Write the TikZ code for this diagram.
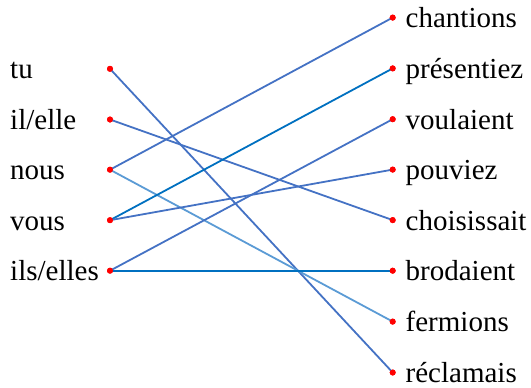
\documentclass[tikz,border=0pt]{standalone}
\usepackage{fontspec}
\setmainfont{Liberation Serif}
\newfontfamily\lblfont{Liberation Serif}
\definecolor{lnA}{HTML}{4472C4}
\definecolor{lnB}{HTML}{5B9BD5}
\definecolor{lnC}{HTML}{0070C0}
\definecolor{dotred}{HTML}{FF0000}
\begin{document}
\begin{tikzpicture}[x=1pt,y=-1pt,
  dotpt/.style={circle,fill=dotred,inner sep=0pt,minimum size=6pt},
  lbl/.style={anchor=base west,inner sep=0pt,font=\lblfont\fontsize{29}{32}\selectfont},
  conA/.style={draw=lnA,line width=1.8pt},
  conB/.style={draw=lnB,line width=1.8pt},
  conC/.style={draw=lnC,line width=1.8pt}]
\useasboundingbox (0,0) rectangle (531,388);
% left
\node[dotpt] (L1) at (110,68.8) {};
\node[dotpt] (L2) at (110,119.5) {};
\node[dotpt] (L3) at (110,169.7) {};
\node[dotpt] (L4) at (110,220.2) {};
\node[dotpt] (L5) at (110,270.7) {};
\node[lbl] (tL1) at (10,78.8) {tu};
\node[lbl] (tL2) at (10,129.5) {il/elle};
\node[lbl] (tL3) at (10,179.7) {nous};
\node[lbl] (tL4) at (10,230.2) {vous};
\node[lbl] (tL5) at (10,280.7) {ils/elles};
% right
\node[dotpt] (R1) at (392.7,17.6) {};
\node[dotpt] (R2) at (392.7,68.4) {};
\node[dotpt] (R3) at (392.7,119.2) {};
\node[dotpt] (R4) at (392.7,169.6) {};
\node[dotpt] (R5) at (392.7,220.1) {};
\node[dotpt] (R6) at (392.7,270.7) {};
\node[dotpt] (R7) at (392.7,321.6) {};
\node[dotpt] (R8) at (392.7,372.5) {};
\node[lbl] (tR1) at (405.5,27.6) {chantions};
\node[lbl] (tR2) at (405.5,78.4) {présentiez};
\node[lbl] (tR3) at (405.5,129.2) {voulaient};
\node[lbl] (tR4) at (405.5,179.6) {pouviez};
\node[lbl] (tR5) at (405.5,230.1) {choisissait};
\node[lbl] (tR6) at (405.5,280.7) {brodaient};
\node[lbl] (tR7) at (405.5,331.6) {fermions};
\node[lbl] (tR8) at (405.5,382.5) {réclamais};
% connectors
\draw[conA] (L1.center) -- (R8.center);
\draw[conA] (L2.center) -- (R5.center);
\draw[conA] (L3.center) -- (R1.center);
\draw[conB] (L3.center) -- (R7.center);
\draw[conC] (L4.center) -- (R2.center);
\draw[conA] (L4.center) -- (R4.center);
\draw[conA] (L5.center) -- (R3.center);
\draw[conC] (L5.center) -- (R6.center);
% dots on top
\foreach \n in {L1,L2,L3,L4,L5,R1,R2,R3,R4,R5,R6,R7,R8}
  \fill[dotred] (\n.center) circle (3pt);
\end{tikzpicture}
\end{document}
